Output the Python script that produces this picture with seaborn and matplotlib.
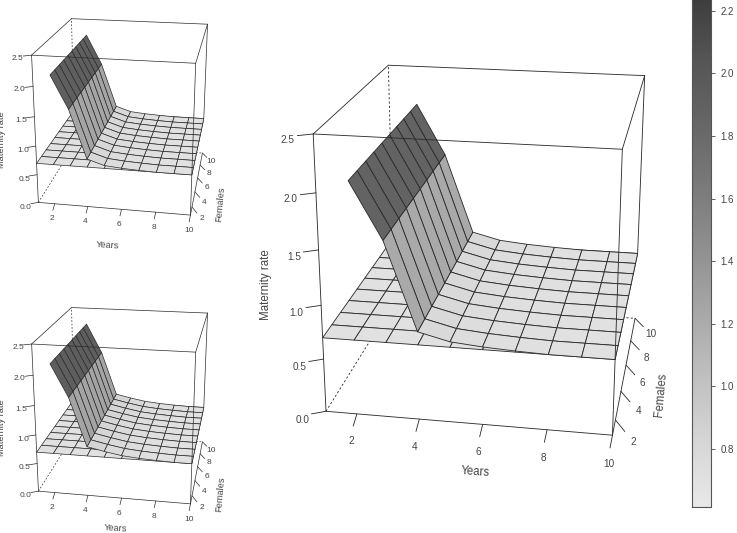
import numpy as np
import matplotlib
matplotlib.use("Agg")
import matplotlib.pyplot as plt
from matplotlib.cm import ScalarMappable
from matplotlib.colors import Normalize
import seaborn as sns

sns.set_theme(style="white")
plt.rcParams['font.family'] = ['Liberation Sans', 'DejaVu Sans']

W, H = 737, 533

# Survey grid
years = list(range(1, 11))
females = list(range(1, 11))

# Baseline maternity rate per year (flat sheet)
floor_rate = [0.70, 0.70, 0.70, 0.70, 0.70, 0.70, 0.70, 0.70, 0.70, 0.70]

# Raised sheet from year 2 onward, one series per panel
main_sheet = [2.12, 1.62, 0.82, 0.75, 0.725, 0.71, 0.70, 0.70, 0.70]
top_sheet = [2.20, 1.66, 0.84, 0.75, 0.725, 0.71, 0.70, 0.70, 0.70]
bottom_sheet = [2.20, 1.67, 0.86, 0.80, 0.75, 0.725, 0.71, 0.70, 0.70]

rate_ticks = [0.0, 0.5, 1.0, 1.5, 2.0, 2.5]
grid_ticks = [2, 4, 6, 8, 10]
legend_ticks = [0.8, 1.0, 1.2, 1.4, 1.6, 1.8, 2.0, 2.2]
legend_range = (0.615, 2.25)
ramp = ["#e8e8e8", "#d6d6d6", "#c0c0c0", "#a8a8a8", "#909090",
        "#7a7a7a", "#666666", "#555555", "#3c3c3c"]

cmap = sns.blend_palette(ramp, as_cmap=True)
norm = Normalize(*legend_range)
ink = "#2b2b2b"
txt = "#444444"
dashes = (0, (2.5, 2.5))

fig = plt.figure(figsize=(W / 100, H / 100), dpi=100)


def panel(rect, sheet, lw, fs):
    ax = fig.add_axes(rect, projection='3d', computed_zorder=False)
    ax.set_xlim(1, 10)
    ax.set_ylim(1, 10)
    ax.set_zlim(0, 2.5)
    ax.view_init(elev=20.099, azim=-80.048, roll=-0.024)
    ax.set_proj_type('persp', focal_length=0.5469)
    ax.set_box_aspect((1, 1, 1.0026))
    ax.set_xticks([])
    ax.set_yticks([])
    ax.set_zticks([])
    ax.set_axis_off()
    cam = ax.get_proj()

    def line(a, b, z, ls='-'):
        ax.plot(*zip(a, b), color=ink, lw=lw, ls=ls, zorder=z, clip_on=False)

    def label(x, y, z, s):
        # Tick labels stay upright: project the anchor, then write in view coordinates
        p = cam @ np.array([x, y, z, 1.0])
        ax.text2D(p[0] / p[3], p[1] / p[3], s, ha='center', va='center',
                  color=txt, fontsize=fs, clip_on=False, transform=ax.transData)

    # Hidden edges of the box sit behind the surface
    line((1, 1, 0), (1, 10, 0), 1, dashes)
    line((1, 10, 0), (10, 10, 0), 1, dashes)
    line((1, 10, 0), (1, 10, 2.5), 1, dashes)
    line((10, 10, floor_rate[-1]), (10, 10, 2.5), 1)
    line((1, 10, 2.5), (10, 10, 2.5), 1)
    line((1, 1, 2.5), (1, 10, 2.5), 1)

    X, Y = np.meshgrid(years, females)
    base = np.tile(np.array(floor_rate), (len(females), 1))
    s1 = ax.plot_surface(X, Y, base, rstride=1, cstride=1, cmap=cmap, norm=norm,
                         edgecolor=ink, linewidth=lw, shade=False, zorder=2)
    X2, Y2 = np.meshgrid(years[1:], females)
    raised = np.tile(np.array(sheet), (len(females), 1))
    s2 = ax.plot_surface(X2, Y2, raised, rstride=1, cstride=1, cmap=cmap, norm=norm,
                         edgecolor=ink, linewidth=lw, shade=False, zorder=3)
    s1.set_clip_on(False)
    s2.set_clip_on(False)

    # Front edges of the box pass over the surface
    line((1, 1, 0), (1, 1, 2.5), 4)
    line((10, 1, 0), (10, 1, 2.5), 4)
    line((1, 1, 2.5), (10, 1, 2.5), 4)
    line((10, 1, 2.5), (10, 10, 2.5), 4)
    line((1, 1, 0), (10, 1, 0), 4)
    line((10, 1, 0), (10, 10, 0), 4)

    for z in rate_ticks:
        line((1, 1, z), (0.6, 0.75, z), 4)
        label(0.45, 0.3, z, f"{z:.1f}")
    for t in grid_ticks:
        line((t, 1, 0), (t + 0.13 - 0.013 * t, 0.2, 0), 4)
        label(t + 0.37 - 0.03 * t, -0.75, 0, str(t))
        line((10, t, 0), (10.35, t - 0.7, 0), 4)
        label(10.65, t - 1.3, 0, str(t))


panel([0.3456, 0.1112, 0.6271, 0.8671], main_sheet, 0.62, 7.2)
panel([0.0007, 0.5581, 0.3329, 0.4603], top_sheet, 0.5, 6)
panel([0.0008, 0.0163, 0.3328, 0.4601], bottom_sheet, 0.5, 6)

axis_titles = [
    ("Years", 475, 471.7, -4, 8.3), ("Females", 660.7, 395, 85, 8.3),
    ("Maternity rate", 265.7, 285, 90, 8.3),
    ("Years", 108, 245.7, -4, 6.6), ("Females", 220.7, 204, 85, 6.6),
    ("Maternity rate", 2, 140, 90, 6.6),
    ("Years", 116, 528, -4, 6.6), ("Females", 220.7, 493.7, 85, 6.6),
    ("Maternity rate", 2, 428, 90, 6.6),
]
for s, x, y, rot, fs in axis_titles:
    fig.text(x / W, 1 - y / H, s, rotation=rot, ha='center', va='center',
             color=txt, fontsize=fs, rotation_mode='anchor')

cax = fig.add_axes([692.3 / W, 1 - 507 / H, 18.4 / W, (507 + 5) / H])
cb = fig.colorbar(ScalarMappable(norm=norm, cmap=cmap), cax=cax)
cb.set_ticks(legend_ticks)
cb.ax.tick_params(length=3, width=0.6, color=txt, labelcolor=txt, labelsize=7,
                  pad=4, right=True)
cb.outline.set_edgecolor("#555555")
cb.outline.set_linewidth(0.8)

fig.savefig("out.png", dpi=100)
